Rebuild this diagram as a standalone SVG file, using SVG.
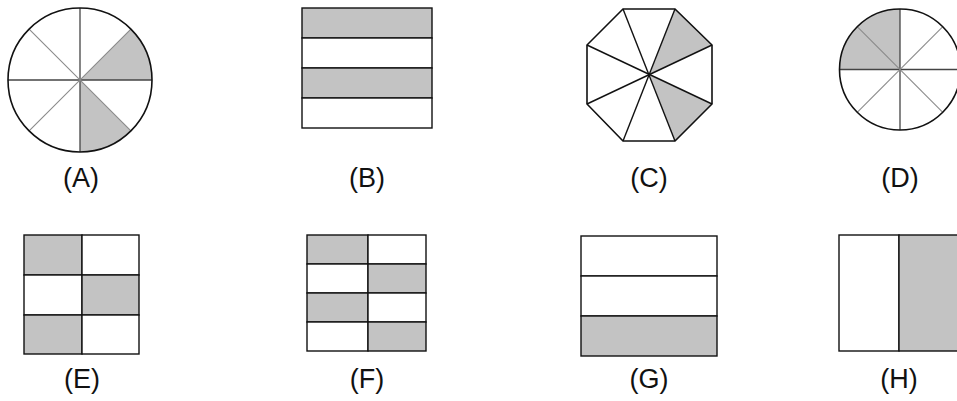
<svg xmlns="http://www.w3.org/2000/svg" width="957" height="401" viewBox="0 0 957 401">
<style>
.bg{fill:#ffffff}
.sh{fill:#c3c3c3;stroke:none}
.ol{fill:none;stroke:#111;stroke-width:1.6}
.cell{fill:#ffffff;stroke:#111;stroke-width:1.4}
.cells{fill:#c3c3c3;stroke:#111;stroke-width:1.4}
.ax{stroke:#444;stroke-width:1.3}
.dg{stroke:#8a8a8a;stroke-width:1.1}
.ln{stroke:#111;stroke-width:1.4}
.lbl{font-family:"Liberation Sans",Arial,sans-serif;font-size:27px;fill:#111;text-anchor:middle}
</style>
<rect class="bg" x="0" y="0" width="957" height="401"/>
<g id="connectors"/>
<g id="figA">
<path class="sh" d="M80,80 L152,80 A72,72 0 0 0 130.9,29.1 Z"/>
<path class="sh" d="M80,80 L130.9,130.9 A72,72 0 0 1 80,152 Z"/>
<line class="ax" x1="8" y1="80" x2="152" y2="80"/>
<line class="ax" x1="80" y1="8" x2="80" y2="152"/>
<line class="dg" x1="29.1" y1="29.1" x2="130.9" y2="130.9"/>
<line class="dg" x1="29.1" y1="130.9" x2="130.9" y2="29.1"/>
<circle class="ol" cx="80" cy="80" r="72"/>
<text class="lbl" x="81" y="187">(A)</text>
</g>
<g id="figB">
<rect class="cells" x="302" y="8" width="130" height="30"/>
<rect class="cell" x="302" y="38" width="130" height="30"/>
<rect class="cells" x="302" y="68" width="130" height="30"/>
<rect class="cell" x="302" y="98" width="130" height="30"/>
<text class="lbl" x="367" y="187">(B)</text>
</g>
<g id="figC">
<polygon class="sh" points="649.5,75 675,9 712,45"/>
<polygon class="sh" points="649.5,75 712,104 675,141"/>
<line class="ln" x1="623" y1="9" x2="675" y2="141"/>
<line class="ln" x1="675" y1="9" x2="623" y2="141"/>
<line class="ln" x1="587" y1="45" x2="712" y2="104"/>
<line class="ln" x1="587" y1="104" x2="712" y2="45"/>
<polygon class="ol" points="623,9 675,9 712,45 712,104 675,141 623,141 587,104 587,45"/>
<text class="lbl" x="649" y="187">(C)</text>
</g>
<g id="figD">
<path class="sh" d="M900,69.5 L839.5,69.5 A60.5,60.5 0 0 1 900,9 Z"/>
<line class="ax" x1="839.5" y1="69.5" x2="960.5" y2="69.5"/>
<line class="ax" x1="900" y1="9" x2="900" y2="130"/>
<line class="dg" x1="857.2" y1="26.7" x2="942.8" y2="112.3"/>
<line class="dg" x1="857.2" y1="112.3" x2="942.8" y2="26.7"/>
<circle class="ol" cx="900" cy="69.5" r="60.5"/>
<text class="lbl" x="900" y="187">(D)</text>
</g>
<g id="figE">
<rect class="cells" x="24" y="235" width="58" height="40"/>
<rect class="cell" x="82" y="235" width="57" height="40"/>
<rect class="cell" x="24" y="275" width="58" height="40"/>
<rect class="cells" x="82" y="275" width="57" height="40"/>
<rect class="cells" x="24" y="315" width="58" height="39"/>
<rect class="cell" x="82" y="315" width="57" height="39"/>
<text class="lbl" x="82" y="388">(E)</text>
</g>
<g id="figF">
<rect class="cells" x="307" y="235" width="61" height="29"/>
<rect class="cell" x="368" y="235" width="58" height="29"/>
<rect class="cell" x="307" y="264" width="61" height="29"/>
<rect class="cells" x="368" y="264" width="58" height="29"/>
<rect class="cells" x="307" y="293" width="61" height="29"/>
<rect class="cell" x="368" y="293" width="58" height="29"/>
<rect class="cell" x="307" y="322" width="61" height="29"/>
<rect class="cells" x="368" y="322" width="58" height="29"/>
<text class="lbl" x="367" y="388">(F)</text>
</g>
<g id="figG">
<rect class="cell" x="581" y="236" width="136" height="40"/>
<rect class="cell" x="581" y="276" width="136" height="40"/>
<rect class="cells" x="581" y="316" width="136" height="40"/>
<text class="lbl" x="649" y="388">(G)</text>
</g>
<g id="figH">
<rect class="cell" x="839" y="235" width="60" height="116"/>
<rect class="cells" x="899" y="235" width="62" height="116"/>
<text class="lbl" x="899" y="388">(H)</text>
</g>
</svg>
